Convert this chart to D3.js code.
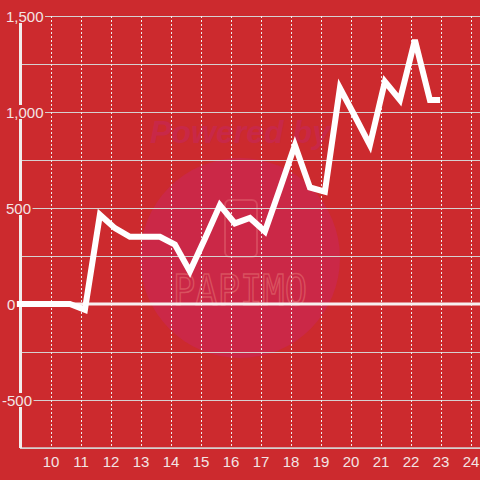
<!DOCTYPE html>
<html>
<head>
<meta charset="utf-8">
<script src="https://cdn.jsdelivr.net/npm/d3@7/dist/d3.min.js"></script>
<style>
  html, body { margin: 0; padding: 0; background: #cc2a2e; }
  svg { display: block; font-family: "Liberation Sans", Arial, sans-serif; }
</style>
</head>
<body>
<div id="chart"></div>
<script>
// DATA
var hours = [8.8, 9.13, 9.63, 10.13, 10.63, 11.13, 11.63, 12.13, 12.63, 13.13, 13.63, 14.13, 14.63, 15.13, 15.63,
             16.13, 16.63, 17.13, 17.63, 18.13, 18.63, 19.13, 19.63, 20.13, 20.63, 21.13, 21.63, 22.13, 22.63, 22.97]
var values = [0, 0, 0, 0, 0, -30, 465, 395, 350, 350, 350, 310, 170, 340, 515,
              420, 448, 378, 600, 828, 607, 585, 1125, 978, 828, 1158, 1063, 1375, 1063, 1063]
var xTicks = [10, 11, 12, 13, 14, 15, 16, 17, 18, 19, 20, 21, 22, 23, 24]
var yGrid = [-750, -500, -250, 0, 250, 500, 750, 1000, 1250, 1500]
var yLabels = [1500, 1000, 500, 0, -500]

;(function() {
var W = 480, H = 480
var plotLeft = 20, plotTop = 16, plotBottom = 448

var svg = d3.select("#chart").append("svg")
  .attr("width", W).attr("height", H)

svg.append("rect").attr("width", W).attr("height", H).attr("fill", "#cc2a2e")

// SCALES
var x = d3.scaleLinear().domain([9, 24.3]).range([21, 480])
var y = d3.scaleLinear().domain([-750, 1500]).range([plotBottom, plotTop])

// watermark
var wm = svg.append("g")
wm.append("circle").attr("cx", 240).attr("cy", 258).attr("r", 100).attr("fill", "#cb2847")
wm.append("text").attr("x", 150).attr("y", 143)
  .attr("textLength", 180).attr("lengthAdjust", "spacingAndGlyphs")
  .style("font-size", "31px").style("font-weight", "bold").style("font-style", "italic")
  .attr("fill", "#c82848").text("Powered by")
wm.append("rect").attr("x", 225).attr("y", 200).attr("width", 32).attr("height", 57).attr("rx", 5)
  .attr("fill", "none").attr("stroke", "#d6475c").attr("stroke-width", 2)
wm.append("text").attr("x", 173).attr("y", 305)
  .attr("textLength", 134).attr("lengthAdjust", "spacingAndGlyphs")
  .style("font-size", "42px").style("font-family", "'DejaVu Sans Mono', monospace")
  .attr("fill", "none").attr("stroke", "#d9515f").attr("stroke-width", 1.5).text("PAPIMO")

// horizontal grid
svg.append("g").selectAll("line").data(yGrid.filter(function(d){ return d !== 0 }))
  .enter().append("line")
  .attr("x1", plotLeft).attr("x2", W)
  .attr("y1", function(d){ return y(d) + 0.5 }).attr("y2", function(d){ return y(d) + 0.5 })
  .attr("stroke", "#d6d0d0").attr("stroke-width", 1)

// vertical dashed grid
svg.append("g").selectAll("line").data(xTicks)
  .enter().append("line")
  .attr("x1", function(d){ return Math.round(x(d)) + 0.5 }).attr("x2", function(d){ return Math.round(x(d)) + 0.5 })
  .attr("y1", plotTop).attr("y2", plotBottom)
  .attr("stroke", "#eee").attr("stroke-width", 1).attr("stroke-dasharray", "2,2")

// zero line
svg.append("line").attr("x1", plotLeft).attr("x2", W).attr("y1", y(0)).attr("y2", y(0))
  .attr("stroke", "#f7f0f0").attr("stroke-width", 3)

// axes lines
svg.append("line").attr("x1", plotLeft).attr("x2", W).attr("y1", plotBottom).attr("y2", plotBottom)
  .attr("stroke", "#d6d0d0").attr("stroke-width", 1.5)
svg.append("line").attr("x1", plotLeft + 0.5).attr("x2", plotLeft + 0.5).attr("y1", plotTop).attr("y2", plotBottom)
  .attr("stroke", "#f2eded").attr("stroke-width", 3)

// data line
var pts = hours.map(function(h, i){ return [h, values[i]] })
var line = d3.line()
  .x(function(d){ return x(d[0]) })
  .y(function(d){ return y(d[1]) })

svg.append("path").datum(pts)
  .attr("d", line)
  .attr("fill", "none").attr("stroke", "#fff").attr("stroke-width", 6)
  .attr("stroke-linejoin", "miter")

// x labels
svg.append("g").selectAll("text").data(xTicks)
  .enter().append("text")
  .attr("x", function(d){ return x(d) }).attr("y", 467)
  .attr("text-anchor", "middle")
  .style("font-size", "15px").attr("fill", "#f3e4e4")
  .text(function(d){ return d })

// y labels with background boxes
var fmt = d3.format(",")
var yl = svg.append("g").selectAll("g").data(yLabels).enter().append("g")
yl.each(function(d){
  var g = d3.select(this)
  var bg = g.append("rect").attr("fill", "#cc2a2e")
  var t = g.append("text")
    .attr("x", d < 0 ? 2 : (d === 0 ? 7 : 6)).attr("y", y(d) + 5.5)
    .style("font-size", "15px").attr("fill", "#f3e4e4")
    .text(fmt(d).replace("−", "-"))
  var b = t.node().getBBox()
  bg.attr("x", 0).attr("y", y(d) - 7).attr("width", b.x + b.width + 1.5).attr("height", 14)
})
})();
</script>
</body>
</html>
